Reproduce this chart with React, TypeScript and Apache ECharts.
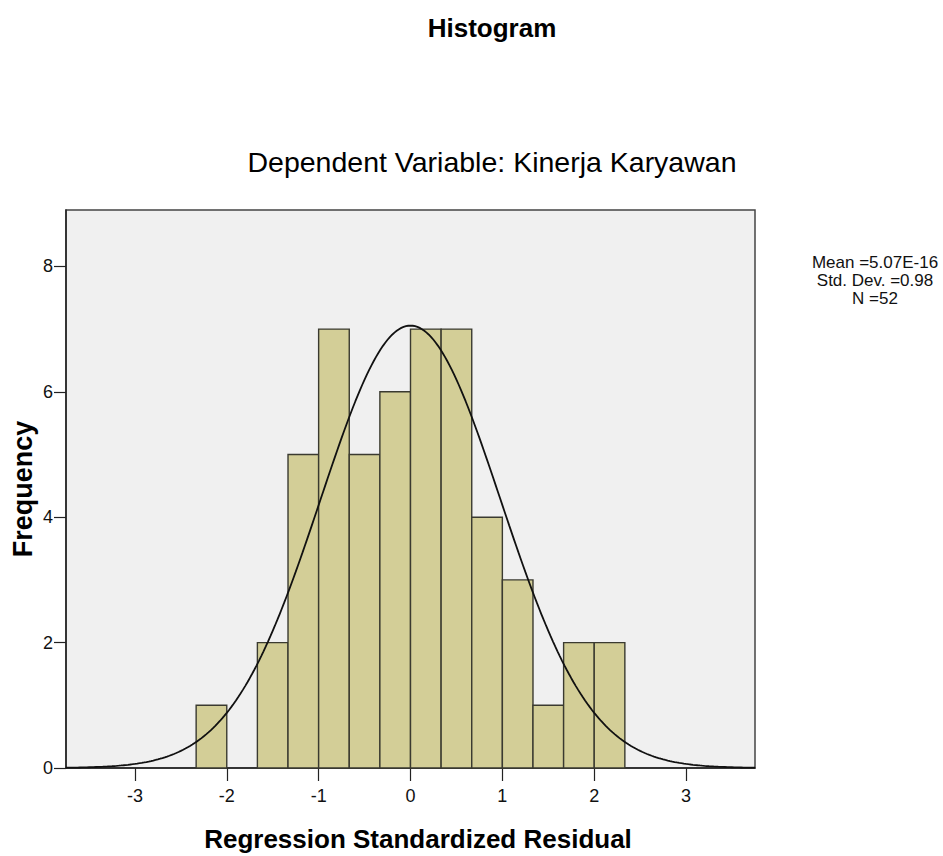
import React, { useEffect, useRef } from "react";
import * as echarts from "echarts";

const BIN_START = -7 / 3;
const BIN_WIDTH = 1 / 3;
const COUNTS = [1, 0, 2, 5, 7, 5, 6, 7, 7, 4, 3, 1, 2, 2];
const X_TICKS = [-3, -2, -1, 0, 1, 2, 3];
const Y_TICKS = [0, 2, 4, 6, 8];
const MEAN = 5.07e-16;
const SD = 0.98;
const N = 52;
const STATS_LINES = ["Mean =5.07E-16", "Std. Dev. =0.98", "N =52"];

const FONT = "'Liberation Sans', Arial, sans-serif";

export default function App() {
  const ref = useRef<HTMLDivElement>(null);
  useEffect(() => {
    if (!ref.current) return;
    const chart = echarts.init(ref.current, null, { renderer: "svg" });

    const bins = COUNTS.map((c, i) => [
      BIN_START + i * BIN_WIDTH,
      BIN_START + (i + 1) * BIN_WIDTH,
      c,
    ]).filter((b) => b[2] > 0);

    const curve: number[][] = [];
    for (let x = -3.75; x <= 3.7501; x += 0.025) {
      const z = (x - MEAN) / SD;
      const y = (N * BIN_WIDTH * Math.exp(-0.5 * z * z)) / (SD * Math.sqrt(2 * Math.PI));
      curve.push([x, y]);
    }

    chart.setOption({
      animation: false,
      backgroundColor: "#ffffff",
      grid: {
        left: 66,
        right: 188,
        top: 210,
        bottom: 88,
        show: true,
        backgroundColor: "#F0F0F0",
        borderColor: "#444444",
        borderWidth: 1.5,
      },
      xAxis: {
        type: "value",
        min: -3.75,
        max: 3.75,
        splitLine: { show: false },
        axisLine: { show: true, onZero: false, lineStyle: { color: "#222", width: 1.5 } },
        axisTick: { show: true, length: 13, customValues: X_TICKS, lineStyle: { color: "#222", width: 1.2 } },
        axisLabel: {
          customValues: X_TICKS,
          margin: 19,
          fontSize: 18,
          fontFamily: FONT,
          color: "#111",
        },
      },
      yAxis: {
        type: "value",
        min: 0,
        max: 8.9,
        splitLine: { show: false },
        axisLine: { show: true, onZero: false, lineStyle: { color: "#222", width: 1.5 } },
        axisTick: { show: true, length: 12, customValues: Y_TICKS, lineStyle: { color: "#222", width: 1.2 } },
        axisLabel: {
          customValues: Y_TICKS,
          margin: 13,
          fontSize: 18,
          fontFamily: FONT,
          color: "#111",
        },
      },
      graphic: [
        {
          type: "text",
          x: 492,
          y: 28,
          style: {
            text: "Histogram",
            textAlign: "center",
            textVerticalAlign: "middle",
            font: `bold 26px ${FONT}`,
            fill: "#000",
          },
        },
        {
          type: "text",
          x: 492,
          y: 162,
          style: {
            text: "Dependent Variable: Kinerja Karyawan",
            textAlign: "center",
            textVerticalAlign: "middle",
            font: `28.5px ${FONT}`,
            fill: "#000",
          },
        },
        {
          type: "text",
          x: 23,
          y: 489,
          rotation: Math.PI / 2,
          style: {
            text: "Frequency",
            textAlign: "center",
            textVerticalAlign: "middle",
            font: `bold 27px ${FONT}`,
            fill: "#000",
          },
        },
        {
          type: "text",
          x: 418,
          y: 839,
          style: {
            text: "Regression Standardized Residual",
            textAlign: "center",
            textVerticalAlign: "middle",
            font: `bold 26px ${FONT}`,
            fill: "#000",
          },
        },
        {
          type: "text",
          x: 875,
          y: 280,
          style: {
            text: STATS_LINES.join("\n"),
            textAlign: "center",
            textVerticalAlign: "middle",
            font: `17px ${FONT}`,
            lineHeight: 18,
            fill: "#111",
          },
        },
      ],
      series: [
        {
          type: "custom",
          data: bins,
          encode: { x: [0, 1], y: 2 },
          renderItem: (params: any, api: any) => {
            const p0 = api.coord([api.value(0), api.value(2)]);
            const p1 = api.coord([api.value(1), 0]);
            return {
              type: "rect",
              shape: { x: p0[0], y: p0[1], width: p1[0] - p0[0], height: p1[1] - p0[1] },
              style: { fill: "#D3CE97", stroke: "#3a3a30", lineWidth: 1.4 },
            };
          },
          z: 2,
        },
        {
          type: "line",
          data: curve,
          showSymbol: false,
          symbol: "none",
          smooth: false,
          lineStyle: { color: "#111", width: 1.8 },
          z: 3,
        },
      ],
    });
    return () => chart.dispose();
  }, []);
  return (
    <div
      ref={ref}
      style={{ position: "absolute", left: 0, top: 0, width: 943, height: 856 }}
    />
  );
}
